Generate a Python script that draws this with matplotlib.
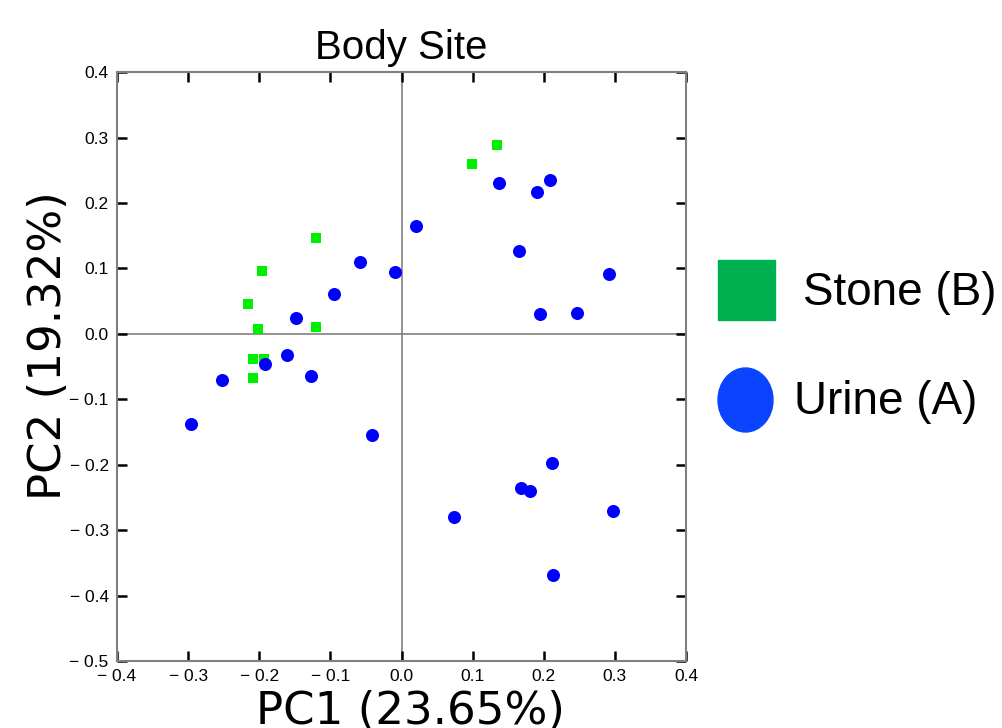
import matplotlib
matplotlib.use("Agg")
import matplotlib.pyplot as plt
from matplotlib.patches import Rectangle, Ellipse

# PCA scores
stone_x = [0.134, 0.099, -0.120, -0.196, -0.216, -0.202, -0.120, -0.209, -0.193, -0.209]
stone_y = [0.288, 0.259, 0.146, 0.096, 0.045, 0.007, 0.010, -0.039, -0.039, -0.067]

urine_x = [-0.059, -0.009, -0.095, -0.148, -0.161, -0.192, -0.252, -0.128, -0.296, -0.042,
           0.021, 0.137, 0.191, 0.209, 0.165, 0.292, 0.195, 0.246,
           0.212, 0.168, 0.181, 0.074, 0.297, 0.213]
urine_y = [0.109, 0.094, 0.061, 0.024, -0.032, -0.046, -0.070, -0.064, -0.138, -0.155,
           0.165, 0.230, 0.217, 0.235, 0.126, 0.091, 0.030, 0.032,
           -0.197, -0.235, -0.240, -0.280, -0.270, -0.369]

x_ticks = [-0.4, -0.3, -0.2, -0.1, 0.0, 0.1, 0.2, 0.3, 0.4]
y_ticks = [-0.5, -0.4, -0.3, -0.2, -0.1, 0.0, 0.1, 0.2, 0.3, 0.4]


def tick_text(v):
    if v < 0:
        return "\u2212 %.1f" % abs(v)
    return "%.1f" % v


def main():
    fig = plt.figure(figsize=(10.03, 7.28), dpi=100)
    ax = fig.add_axes([0.1167, 0.092, 0.5673, 0.809])

    ax.axhline(0, color="#808080", lw=1.2, zorder=1)
    ax.axvline(0, color="#808080", lw=1.2, zorder=1)

    ax.scatter(stone_x, stone_y, marker="s", s=60, color="#00ee00", linewidths=0, zorder=3)
    ax.scatter(urine_x, urine_y, marker="o", s=88, color="#0000ff", linewidths=0, zorder=4)

    ax.set_xlim(-0.4, 0.4)
    ax.set_ylim(-0.5, 0.4)
    ax.set_xticks(x_ticks)
    ax.set_yticks(y_ticks)
    ax.set_xticklabels([tick_text(v) for v in x_ticks])
    ax.set_yticklabels([tick_text(v) for v in y_ticks])
    ax.tick_params(direction="in", length=7, width=1.8, color="black",
                   top=True, right=True, labelsize=12.5, pad=6)
    for lab in ax.get_xticklabels() + ax.get_yticklabels():
        lab.set_family("Liberation Sans")
    for sp in ax.spines.values():
        sp.set_color("#808080")
        sp.set_linewidth(1.5)

    ax.set_title("Body Site", fontsize=29, family="Liberation Sans", pad=9.5)
    ax.set_xlabel("PC1 (23.65%)", fontsize=32.5)
    ax.set_ylabel("PC2 (19.32%)", fontsize=32.5)
    ax.xaxis.set_label_coords(0.515, -0.05)
    ax.yaxis.set_label_coords(-0.082, 0.536)

    # legend drawn beside the plot
    fig.add_artist(Rectangle((718 / 1003, 1 - 320 / 728), 57 / 1003, 60 / 728,
                             transform=fig.transFigure, color="#00b050"))
    fig.add_artist(Ellipse((745.5 / 1003, 1 - 400 / 728), 55 / 1003, 64 / 728,
                           transform=fig.transFigure, color="#0b44ff"))
    fig.text(803 / 1003, 1 - 293 / 728, "Stone (B)", fontsize=33,
             family="Liberation Sans", va="center")
    fig.text(794 / 1003, 1 - 402 / 728, "Urine (A)", fontsize=33,
             family="Liberation Sans", va="center")

    fig.savefig("out.png", dpi=100)


if __name__ == "__main__":
    main()
